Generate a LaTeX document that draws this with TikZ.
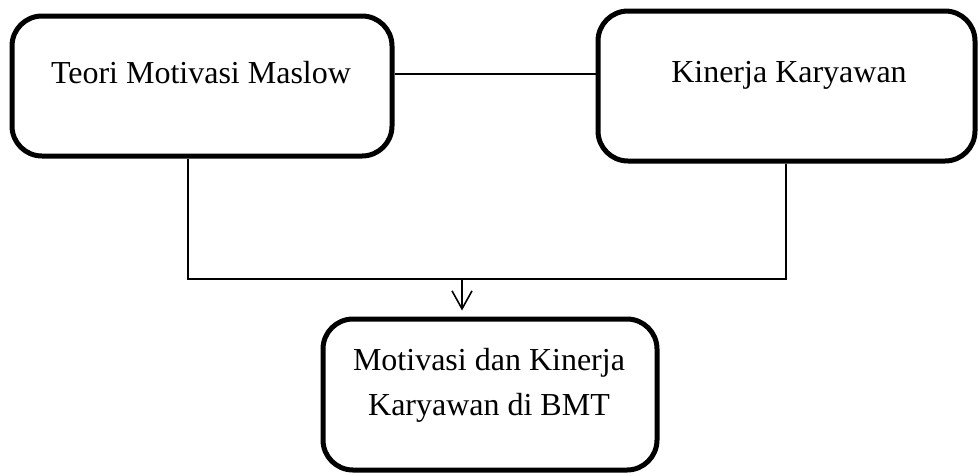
\documentclass[tikz,border=0pt]{standalone}
\usepackage{fontspec}
\setmainfont{Liberation Serif}
\usetikzlibrary{arrows.meta}
\begin{document}
\begin{tikzpicture}[x=1pt,y=-1pt,
  box/.style={draw, line width=5pt, rounded corners=30pt, inner sep=0pt},
  lbl/.style={font=\fontsize{32}{45}\selectfont, align=center, inner sep=0pt},
  link/.style={line width=1.6pt}]
\useasboundingbox (0,0) rectangle (979,475);
\node[box, minimum width=380pt, minimum height=140pt] (L) at (202,86) {};
\node[lbl, anchor=base] (Lt) at (201,83) {Teori Motivasi Maslow};
\node[box, minimum width=377pt, minimum height=150pt] (R) at (786.5,86) {};
\node[lbl, anchor=base] (Rt) at (789,82) {Kinerja Karyawan};
\node[box, minimum width=334pt, minimum height=151pt] (B) at (490,394.5) {};
\node[lbl, anchor=north] (Bt) at (489,348.5) {Motivasi dan Kinerja\\Karyawan di BMT};
\coordinate (mid) at (0,74);
\coordinate (jl) at (188,279);
\coordinate (jr) at (786,279);
\coordinate (ja) at (462,279);
\draw[link] (L.east |- mid) -- (R.west |- mid);
\draw[link] (L.south -| jl) -- (jl) -- (jr) -- (R.south -| jr);
\draw[link, -{Straight Barb[length=18pt,width=20pt]}, shorten >=6pt] (ja) -- (B.north -| ja);
\end{tikzpicture}
\end{document}
